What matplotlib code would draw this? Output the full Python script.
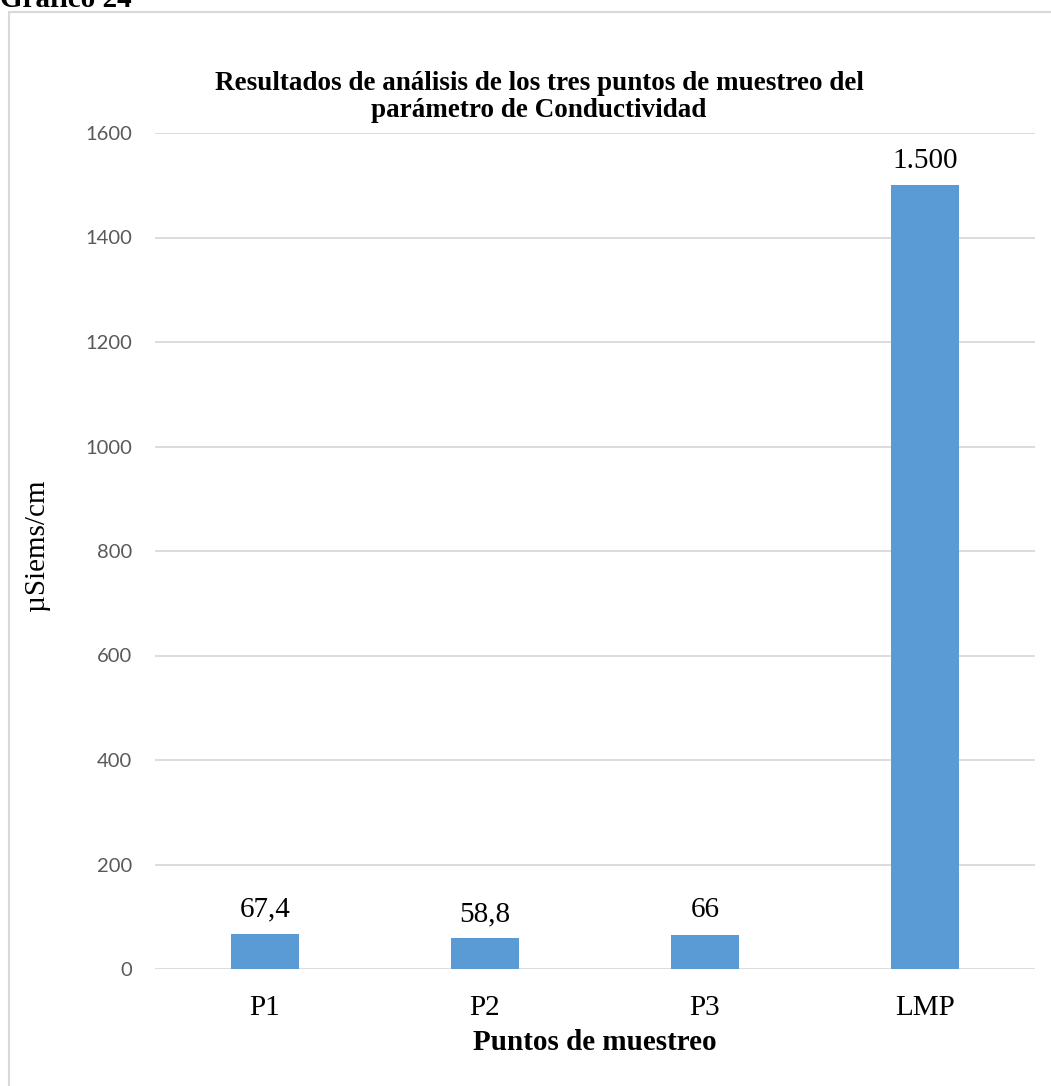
import matplotlib.pyplot as plt
from matplotlib.patches import Rectangle

# Conductividad por punto de muestreo (µS/cm) y límite máximo permisible
puntos = ['P1', 'P2', 'P3', 'LMP']
conductividad = [67.4, 58.8, 66, 1500]
yticks = [0, 200, 400, 600, 800, 1000, 1200, 1400, 1600]


def formato_es(v):
    # decimal con coma, miles con punto
    if float(v).is_integer():
        s = f'{int(v):,}'.replace(',', '.')
    else:
        s = f'{v:.1f}'.replace('.', ',')
    return s


serif = 'Liberation Serif'
sans = 'Lato'
bar_color = '#5b9bd5'
grid_color = '#d9d9d9'
tick_color = '#595959'
fs = 21

fig = plt.figure(figsize=(10.51, 10.86), dpi=100)

# marco del gráfico
fig.patches.append(Rectangle((9 / 1051, -0.01), 1.05, 1 - 12 / 1086 + 0.01,
                             transform=fig.transFigure, fill=False,
                             edgecolor=grid_color, linewidth=1.5))
fig.text(0.0, 1 - 7 / 1086, 'Gráfico 24', ha='left', va='baseline',
         fontsize=fs, fontweight='bold', family=serif)

ax = fig.add_axes([155 / 1051, 1 - 969 / 1086, 880 / 1051, 836 / 1086])
x = range(len(puntos))
bars = ax.bar(x, conductividad, width=0.31, color=bar_color, zorder=3)

for xi, v in zip(x, conductividad):
    ax.annotate(formato_es(v), (xi, v), xytext=(0, 12.5),
                textcoords='offset points', ha='center', va='baseline',
                fontsize=fs, family=serif, color='black')

ax.set_xlim(-0.5, len(puntos) - 0.5)
ax.set_ylim(0, 1600)
ax.set_yticks(yticks)
ax.set_yticklabels([str(t) for t in yticks], family=sans, fontsize=14.5,
                   color=tick_color)
ax.set_xticks(list(x))
ax.set_xticklabels(puntos, family=serif, fontsize=fs)
ax.tick_params(axis='both', length=0)
ax.tick_params(axis='y', pad=16.5)
ax.tick_params(axis='x', pad=19)
ax.grid(axis='y', color=grid_color, linewidth=1.3, zorder=0)
for s in ax.spines.values():
    s.set_visible(False)

ax.set_xlabel('Puntos de muestreo', family=serif, fontsize=fs,
              fontweight='bold', va='center')
ax.xaxis.set_label_coords(0.5, (969 - 1043) / 836)
fig.text(37 / 1051, 1 - 545 / 1086, 'µSiems/cm', rotation=90, ha='center',
         va='center', family=serif, fontsize=fs)

fig.text(539 / 1051, 1 - 97 / 1086,
         'Resultados de análisis de los tres puntos de muestreo del\n'
         'parámetro de Conductividad',
         ha='center', va='center', family=serif, fontsize=19.5,
         fontweight='bold', linespacing=1.1)

fig.savefig('out.png', dpi=100)
